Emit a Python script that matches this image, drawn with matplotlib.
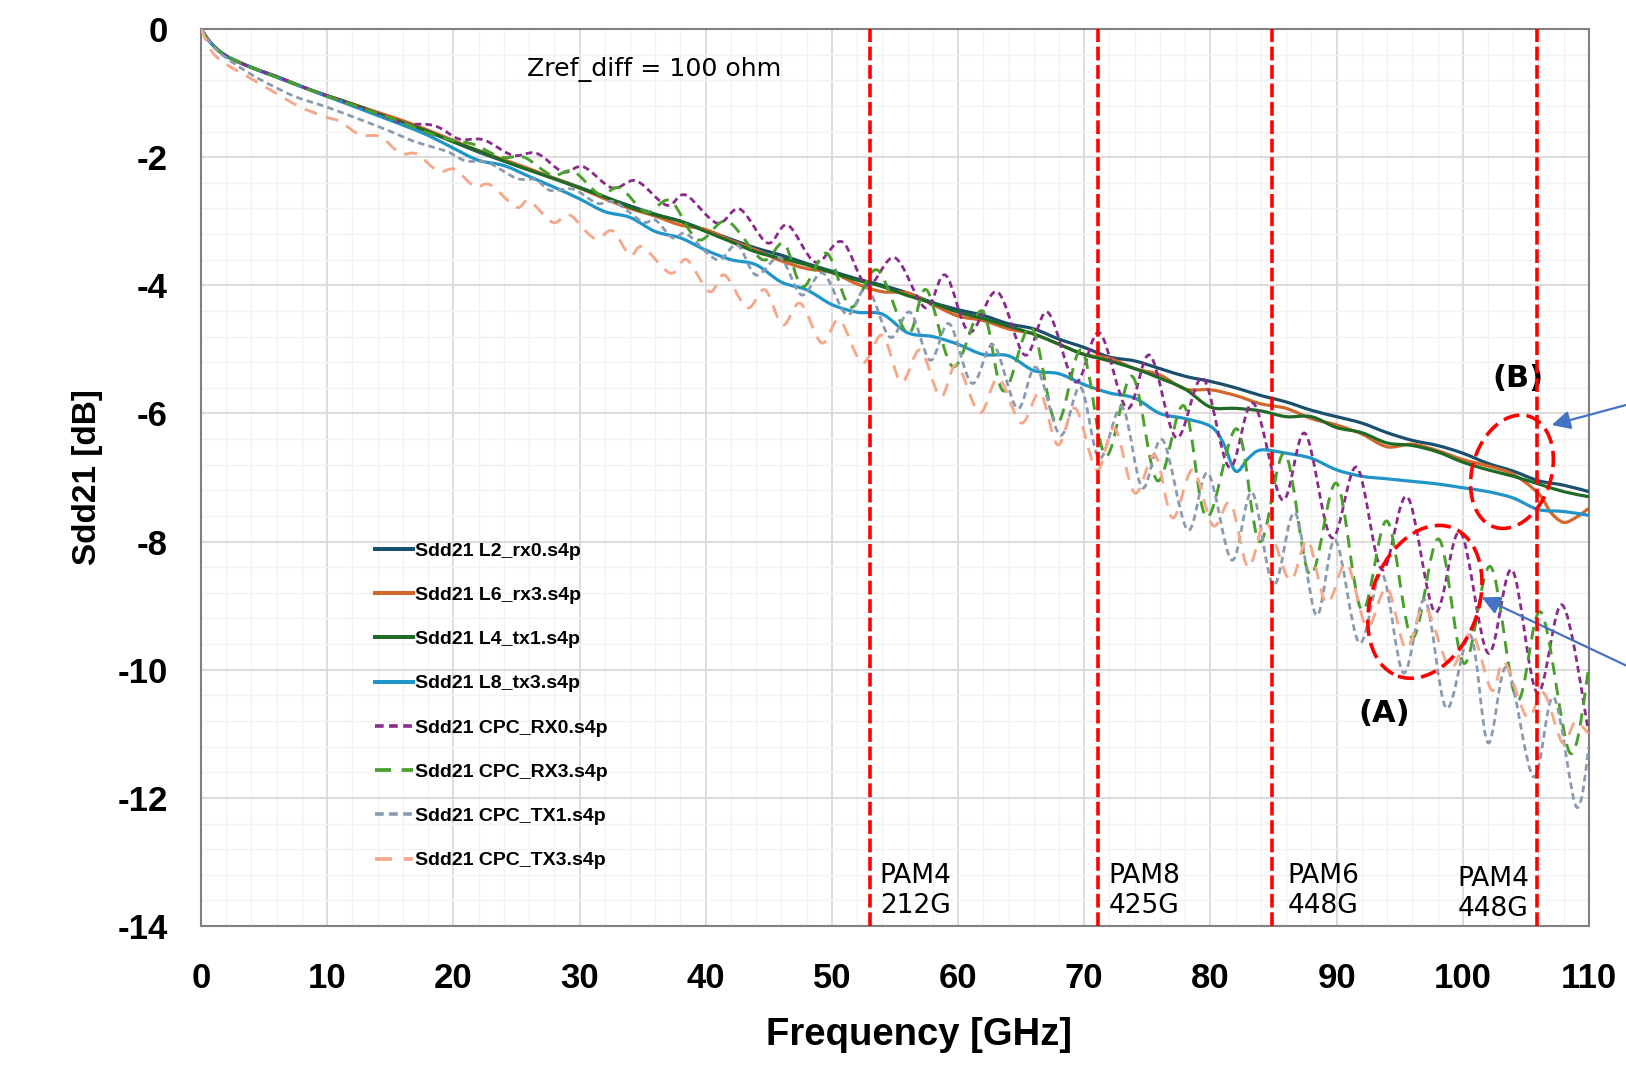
import numpy as np
import matplotlib
matplotlib.use("Agg")
import matplotlib.pyplot as plt
from matplotlib.path import Path
from matplotlib.patches import PathPatch, Ellipse
from matplotlib.lines import Line2D
import matplotlib.transforms as mtransforms

plt.rcParams["axes.unicode_minus"] = False

# ---- data (frequency in GHz, Sdd21 in dB) ----
l2_f = [0, 0.8, 2, 4, 6, 8, 10, 12, 14, 16, 18, 20, 22, 24, 26, 28, 30, 32, 34, 36, 38, 40, 42, 44, 46, 48, 50,
        52, 54, 56, 58, 60, 62, 64, 66, 68, 70, 72, 74, 76, 78, 80, 82, 84, 86, 88, 90, 92, 94, 96, 98, 100,
        102, 104, 106, 108, 110]
l2_db = [0, -0.22, -0.42, -0.60, -0.74, -0.90, -1.05, -1.18, -1.31, -1.45, -1.60, -1.76, -1.92, -2.06, -2.20,
         -2.33, -2.47, -2.62, -2.76, -2.89, -3.00, -3.14, -3.28, -3.42, -3.53, -3.66, -3.78, -3.90, -4.00,
         -4.12, -4.27, -4.38, -4.47, -4.60, -4.68, -4.84, -4.97, -5.12, -5.18, -5.30, -5.42, -5.50, -5.60,
         -5.72, -5.82, -5.95, -6.05, -6.15, -6.30, -6.42, -6.50, -6.62, -6.78, -6.90, -7.05, -7.12, -7.22]

l6_f = [0, 0.8, 2, 4, 6, 8, 10, 12, 14, 16, 18, 20, 22, 24, 26, 28, 30, 32, 34, 36, 38, 40, 42, 44, 46, 48, 50,
        52, 54, 56, 58, 60, 62, 64, 66, 68, 70, 72, 74, 76, 78, 80, 82, 84, 86, 88, 90, 92, 94, 96, 98, 100,
        102, 104, 106, 107, 108, 109, 110]
l6_db = [0, -0.22, -0.42, -0.60, -0.75, -0.90, -1.04, -1.17, -1.30, -1.43, -1.58, -1.74, -1.90, -2.04, -2.18,
         -2.33, -2.48, -2.65, -2.80, -2.92, -3.06, -3.13, -3.30, -3.45, -3.62, -3.74, -3.80, -3.98, -4.10,
         -4.12, -4.30, -4.48, -4.55, -4.68, -4.76, -4.92, -5.08, -5.14, -5.30, -5.40, -5.62, -5.63, -5.72,
         -5.85, -5.92, -6.08, -6.18, -6.32, -6.52, -6.48, -6.58, -6.72, -6.82, -6.95, -7.25, -7.55, -7.70,
         -7.62, -7.48]

l4_f = [0, 0.8, 2, 4, 6, 8, 10, 12, 14, 16, 18, 20, 22, 24, 26, 28, 30, 32, 34, 36, 38, 40, 42, 44, 46, 48, 50,
        52, 54, 56, 58, 60, 62, 64, 66, 68, 70, 72, 74, 76, 78, 80, 82, 84, 86, 88, 90, 92, 94, 96, 98, 100,
        102, 104, 106, 108, 110]
l4_db = [0, -0.22, -0.42, -0.60, -0.75, -0.90, -1.04, -1.17, -1.32, -1.46, -1.60, -1.76, -1.90, -2.06, -2.20,
         -2.34, -2.48, -2.62, -2.78, -2.90, -3.00, -3.16, -3.32, -3.48, -3.58, -3.68, -3.80, -3.92, -4.02,
         -4.16, -4.28, -4.42, -4.52, -4.64, -4.76, -4.92, -5.08, -5.18, -5.30, -5.45, -5.62, -5.90, -5.92,
         -5.96, -6.05, -6.05, -6.22, -6.30, -6.46, -6.50, -6.60, -6.76, -6.88, -6.98, -7.10, -7.22, -7.30]

l8_f = [0, 0.8, 2, 4, 6, 8, 10, 12, 14, 16, 18, 20, 22, 24, 26, 28, 30, 32, 34, 36, 38, 40, 42, 44, 46, 48, 50,
        52, 54, 56, 58, 60, 62, 64, 66, 68, 70, 72, 74, 76, 78, 80, 81, 82, 83, 84, 86, 88, 90, 92, 94, 96,
        98, 100, 102, 104, 106, 108, 110]
l8_db = [0, -0.22, -0.42, -0.60, -0.75, -0.90, -1.05, -1.20, -1.35, -1.50, -1.66, -1.86, -2.05, -2.13, -2.30,
         -2.47, -2.65, -2.85, -2.94, -3.16, -3.26, -3.45, -3.60, -3.68, -3.95, -4.07, -4.30, -4.42, -4.45,
         -4.74, -4.80, -4.92, -5.08, -5.10, -5.33, -5.38, -5.55, -5.68, -5.76, -6.00, -6.08, -6.20, -6.45,
         -6.90, -6.70, -6.57, -6.62, -6.70, -6.88, -6.98, -7.02, -7.06, -7.10, -7.16, -7.22, -7.32, -7.50,
         -7.53, -7.59]

rx0_f = [0, 0.8, 2, 4, 6, 8, 10, 12, 14, 16, 18, 19, 20.5, 22.4, 24.7, 26.6, 28.7, 30.3, 32.6, 34.5, 36.9,
         38.4, 40.9, 42.7, 44.9, 46.5, 48.7, 50.8, 52.8, 55.0, 57.4, 59.0, 60.9, 63.1, 65.3, 67.1, 69.3, 71.2,
         73.4, 75.2, 77.3, 79.4, 81.5, 83.4, 85.7, 87.5, 89.6, 91.6, 93.6, 95.6, 97.8, 99.8, 102.0, 103.9,
         105.9, 107.9, 110]
rx0_db = [0, -0.22, -0.42, -0.60, -0.74, -0.90, -1.04, -1.18, -1.32, -1.47, -1.49, -1.55, -1.72, -1.73,
          -1.97, -1.94, -2.23, -2.15, -2.48, -2.37, -2.75, -2.59, -3.03, -2.81, -3.34, -3.06, -3.64, -3.32,
          -4.00, -3.57, -4.35, -3.84, -4.73, -4.10, -5.09, -4.42, -5.51, -4.74, -5.92, -5.09, -6.38, -5.45,
          -6.84, -5.84, -7.35, -6.31, -7.94, -6.84, -8.44, -7.30, -9.10, -7.85, -9.74, -8.44, -10.36, -8.99,
          -11.00]

rx3_f = [0, 0.8, 2, 4, 6, 8, 10, 12, 14, 16, 18, 20, 21.6, 23.8, 25.6, 27.8, 29.5, 31.6, 33.2, 35.3, 37.2,
         39.4, 41.7, 44.5, 46.2, 47.7, 49.6, 51.5, 53.6, 56.0, 57.5, 59.6, 61.9, 63.6, 65.8, 67.8, 69.8, 71.7,
         73.8, 75.8, 77.9, 79.7, 82.1, 83.9, 85.9, 87.9, 90.0, 92.0, 94.0, 96.0, 98.1, 100.1, 102.2, 104.3,
         106.2, 108.5, 110]
rx3_db = [0, -0.22, -0.42, -0.60, -0.75, -0.90, -1.05, -1.18, -1.32, -1.46, -1.62, -1.74, -1.80, -2.00,
          -2.00, -2.28, -2.22, -2.58, -2.48, -2.86, -2.68, -3.29, -3.00, -3.60, -3.35, -4.02, -3.50, -4.34,
          -3.76, -4.75, -4.07, -5.27, -4.40, -5.65, -4.65, -6.15, -5.01, -6.66, -5.42, -7.05, -5.88, -7.62,
          -6.24, -8.00, -6.62, -8.52, -7.09, -9.07, -7.68, -9.50, -7.96, -9.90, -8.39, -10.47, -9.10, -11.30,
          -9.96]

tx1_f = [0, 1, 2, 3.5, 5, 7.4, 10, 12.7, 14.8, 16.7, 18, 19.6, 21, 22.7, 25, 26.5, 27.7, 29.5, 31.4, 32.8, 35,
         36, 37.4, 38.5, 40.9, 42.5, 44, 45.9, 47.6, 49.3, 51.2, 52.8, 54.6, 56.2, 57.8, 59.3, 61.1, 62.8,
         64.7, 66.2, 68.1, 69.7, 71.2, 73, 74.6, 76.2, 78.2, 79.8, 81.7, 83.3, 85, 86.7, 88.4, 89.9, 91.8,
         93.6, 95.3, 97, 98.7, 100.6, 102, 103.5, 105.6, 107.2, 109, 110]
tx1_db = [0, -0.28, -0.45, -0.65, -0.82, -1.05, -1.22, -1.42, -1.58, -1.74, -1.82, -1.92, -2.06, -2.08, -2.33,
          -2.35, -2.52, -2.50, -2.72, -2.70, -3.01, -2.98, -3.26, -3.20, -3.60, -3.37, -3.84, -3.57, -4.15,
          -3.81, -4.46, -4.04, -4.81, -4.42, -5.17, -4.60, -5.53, -4.93, -5.92, -5.28, -6.34, -5.59, -6.70,
          -5.90, -7.16, -6.41, -7.82, -6.93, -8.29, -7.23, -8.68, -7.55, -9.15, -7.98, -9.58, -8.50, -10.05,
          -8.91, -10.60, -9.46, -11.14, -9.96, -11.67, -10.43, -12.14, -11.20]

tx3_f = [0, 0.9, 2.1, 3.5, 5.5, 7.8, 10, 11, 12.6, 14.2, 15.8, 17.1, 18.8, 20.1, 21.7, 22.9, 25.0, 26.0, 27.9,
         29.2, 31.2, 32.6, 34.0, 35.0, 37.2, 38.5, 40.3, 41.5, 43.3, 44.7, 46.1, 47.5, 49.2, 50.6, 52.4, 54.0,
         55.5, 57.0, 58.6, 59.9, 61.7, 63.2, 65.0, 66.5, 67.9, 69.3, 71.0, 72.4, 74.0, 75.6, 77.0, 78.6, 80.2,
         81.6, 83.0, 84.4, 86.3, 87.7, 89.2, 90.8, 92.4, 94.0, 95.5, 97.0, 99.0, 100.7, 102.3, 103.3, 105.1,
         106.4, 107.9, 108.9, 110]
tx3_db = [0, -0.36, -0.56, -0.72, -0.95, -1.21, -1.38, -1.44, -1.65, -1.68, -1.94, -1.95, -2.22, -2.19, -2.46,
          -2.43, -2.78, -2.68, -3.02, -2.90, -3.27, -3.15, -3.53, -3.40, -3.81, -3.60, -4.10, -3.84, -4.35,
          -4.07, -4.62, -4.28, -4.90, -4.54, -5.21, -4.78, -5.51, -5.01, -5.74, -5.24, -5.99, -5.45, -6.15,
          -5.68, -6.49, -5.92, -6.88, -6.23, -7.24, -6.65, -7.63, -6.88, -7.75, -7.40, -8.40, -7.70, -8.60,
          -7.98, -8.96, -8.34, -9.33, -8.72, -9.67, -9.02, -9.96, -9.43, -10.32, -9.88, -10.74, -10.36, -11.14,
          -10.82, -11.00]

labels = ["Sdd21 L2_rx0.s4p", "Sdd21 L6_rx3.s4p", "Sdd21 L4_tx1.s4p", "Sdd21 L8_tx3.s4p",
          "Sdd21 CPC_RX0.s4p", "Sdd21 CPC_RX3.s4p", "Sdd21 CPC_TX1.s4p", "Sdd21 CPC_TX3.s4p"]

# Nyquist markers
marker_f = [53.0, 71.1, 84.9, 105.9]
marker_text = ["PAM4\n212G", "PAM8\n425G", "PAM6\n448G", "PAM4\n448G"]
marker_text_x = [53.8, 71.9, 86.1, 99.6]
marker_text_y = [-13.45, -13.45, -13.45, -13.50]

series = [
    (l2_f, l2_db, "#1b4f6e", "-", 2.3),
    (l6_f, l6_db, "#d2672b", "-", 2.3),
    (l4_f, l4_db, "#1f6b25", "-", 2.3),
    (l8_f, l8_db, "#1f95c9", "-", 2.3),
    (rx0_f, rx0_db, "#8b2a8c", (0, (2.4, 1.5)), 2.0),
    (rx3_f, rx3_db, "#4b9f2d", (0, (4.3, 2.8)), 2.1),
    (tx1_f, tx1_db, "#8a9bb0", (0, (2.4, 1.5)), 2.0),
    (tx3_f, tx3_db, "#f5a98c", (0, (4.5, 3.2)), 2.1),
]


def smooth_path(x, y):
    # Excel-style smoothed line: Catmull-Rom segments drawn as cubic Bezier curves
    pts = np.column_stack([x, y]).astype(float)
    n = len(pts)
    verts = [pts[0]]
    codes = [Path.MOVETO]
    for i in range(n - 1):
        p0 = pts[i - 1] if i > 0 else pts[i]
        p1 = pts[i]
        p2 = pts[i + 1]
        p3 = pts[i + 2] if i + 2 < n else pts[i + 1]
        verts += [p1 + (p2 - p0) / 6.0, p2 - (p3 - p1) / 6.0, p2]
        codes += [Path.CURVE4] * 3
    return Path(verts, codes)


fig = plt.figure(figsize=(16.26, 10.91), dpi=100)
ax = fig.add_axes([0.1236, 0.1512, 0.8536, 0.8222])

ax.set_xlim(0, 110)
ax.set_ylim(-14, 0)
ax.set_xticks(np.arange(0, 111, 10))
ax.set_yticks(np.arange(-14, 0.1, 2))
ax.set_xticks(np.arange(0, 111, 2), minor=True)
ax.set_yticks(np.arange(-14, 0.01, 0.4), minor=True)
ax.grid(which="major", color="#d9d9d9", lw=1.3, zorder=0)
ax.grid(which="minor", color="#f2f2f2", lw=1.0, zorder=0)
ax.set_axisbelow(True)
ax.tick_params(which="both", length=0)
ax.tick_params(axis="x", pad=26)
ax.tick_params(axis="y", pad=24)
for lab in ax.get_xticklabels() + ax.get_yticklabels():
    lab.set_fontfamily("Liberation Sans")
    lab.set_fontweight("bold")
    lab.set_fontsize(25)
for s in ax.spines.values():
    s.set_color("#808080")
    s.set_linewidth(1.5)

handles = []
for (fx, dbv, col, ls, lw), lab in zip(series, labels):
    patch = PathPatch(smooth_path(fx, dbv), fill=False, edgecolor=col, lw=lw, linestyle=ls,
                      capstyle="butt", joinstyle="round", zorder=3)
    ax.add_patch(patch)
    handles.append(Line2D([], [], color=col, lw=lw + 0.6, linestyle=ls, dash_capstyle="butt"))

for xf in marker_f:
    ax.axvline(xf, color="#ff0000", lw=2.6, linestyle=(0, (3.8, 1.3)), zorder=5)
for tx, ty, t in zip(marker_text_x, marker_text_y, marker_text):
    ax.text(tx, ty, t, fontsize=19, family="DejaVu Sans", ha="left", va="center",
            linespacing=1.2, zorder=6)

ax.text(25.8, -0.63, "Zref_diff = 100 ohm", fontsize=18.2, family="DejaVu Sans", ha="left", va="center")

leg = ax.legend(handles, labels, loc="upper left", bbox_to_anchor=(0.1254, 0.428), frameon=False,
                prop={"family": "Liberation Sans", "weight": "bold", "size": 14},
                handlelength=1.95, handletextpad=0.1, labelspacing=1.37, borderpad=0, borderaxespad=0)

# highlight ellipses (sized in inches, centred in data coords)
for cx, cy, w, h, ang in [(103.9, -6.91, 0.79, 1.16, -17), (97.0, -8.94, 1.07, 1.58, -20)]:
    tr = fig.dpi_scale_trans + mtransforms.ScaledTranslation(cx, cy, ax.transData)
    ax.add_patch(Ellipse((0, 0), w, h, angle=ang, transform=tr, fill=False, edgecolor="#ff0000",
                         lw=2.6, linestyle=(0, (4.5, 2.0)), zorder=7, clip_on=False))

ax.text(104.4, -5.45, "(B)", fontsize=22, fontweight="bold", family="DejaVu Sans", ha="center", va="center")
ax.text(93.8, -10.68, "(A)", fontsize=22, fontweight="bold", family="DejaVu Sans", ha="center", va="center")

for tip, tail in [((107.05, -6.18), (112.9, -5.87)), ((101.5, -8.87), (112.9, -9.93))]:
    ax.annotate("", xy=tip, xytext=tail, annotation_clip=False,
                arrowprops=dict(arrowstyle="-|>", color="#4472c4", lw=1.6, mutation_scale=28,
                                shrinkA=0, shrinkB=0))

ax.set_xlabel("Frequency [GHz]", fontsize=27.5, fontweight="bold", family="Liberation Sans")
ax.set_ylabel("Sdd21 [dB]", fontsize=24, fontweight="bold", family="Liberation Sans")
ax.xaxis.set_label_coords(0.517, -0.1215)
ax.xaxis.label.set_verticalalignment("center")
ax.yaxis.set_label_coords(-0.0814, 0.5)
ax.yaxis.label.set_verticalalignment("center")

fig.savefig("out.png", dpi=100)
